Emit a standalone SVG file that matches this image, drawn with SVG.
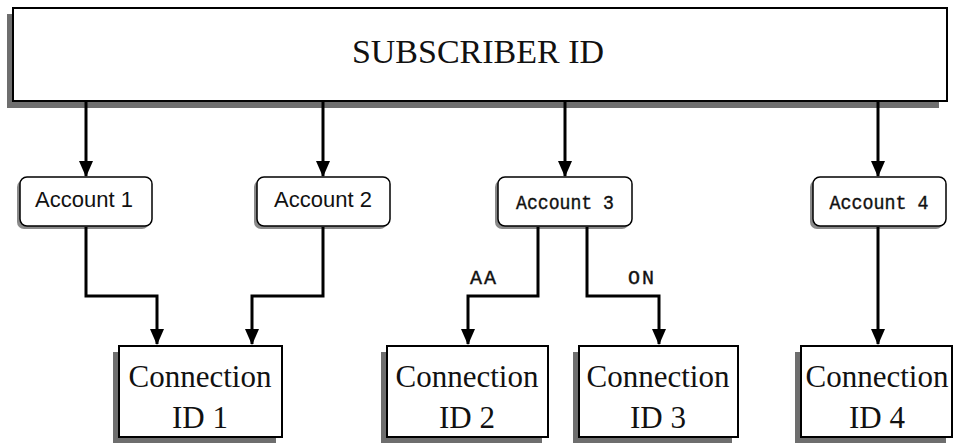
<svg xmlns="http://www.w3.org/2000/svg" width="958" height="445" viewBox="0 0 958 445">
<defs>
<marker id="ah" markerWidth="16" markerHeight="14" refX="15" refY="7" orient="auto" markerUnits="userSpaceOnUse" viewBox="0 0 16 14">
<path d="M0,0 L16,7 L0,14 Z" fill="#000"/>
</marker>
</defs>
<style>
.box{fill:#fff;stroke:#000;stroke-width:2}
.shadow{fill:#6e6e6e}
.acc{fill:#fff;stroke:#000;stroke-width:1.5}
.ashadow{fill:#8a8a8a}
.conn{fill:none;stroke:#000;stroke-width:3}
.sans{font-family:"Liberation Sans",Arial,sans-serif;font-size:22px;fill:#111;text-anchor:middle}
.mono{font-family:"Liberation Mono","Courier New",monospace;font-size:21px;fill:#111;stroke:#111;stroke-width:0.4;text-anchor:middle}
.serif{font-family:"Liberation Serif","Times New Roman",serif;fill:#111;text-anchor:middle}
.lbl{font-family:"Liberation Mono","Courier New",monospace;font-size:20px;fill:#111;stroke:#111;stroke-width:0.4;text-anchor:middle;letter-spacing:2px}
</style>
<rect width="958" height="445" fill="#fff"/>

<g id="subscriber">
<rect class="shadow" x="7" y="14" width="932" height="94"/>
<rect class="box" x="13" y="8" width="934" height="93"/>
<text class="serif" x="478" y="63" font-size="34">SUBSCRIBER ID</text>
</g>

<g id="account1">
<rect class="ashadow" x="17" y="180" width="132" height="49" rx="7"/>
<rect class="acc" x="20" y="177" width="132" height="49" rx="7"/>
<text class="sans" x="84" y="207">Account 1</text>
</g>
<g id="account2">
<rect class="ashadow" x="254" y="180" width="133" height="49" rx="7"/>
<rect class="acc" x="257" y="177" width="133" height="49" rx="7"/>
<text class="sans" x="323" y="207">Account 2</text>
</g>
<g id="account3">
<rect class="ashadow" x="495" y="180" width="134" height="49" rx="7"/>
<rect class="acc" x="498" y="177" width="134" height="49" rx="7"/>
<text class="mono" x="565" y="209" textLength="98" lengthAdjust="spacingAndGlyphs">Account 3</text>
</g>
<g id="account4">
<rect class="ashadow" x="810" y="180" width="133" height="49" rx="7"/>
<rect class="acc" x="813" y="177" width="133" height="49" rx="7"/>
<text class="mono" x="879" y="209" textLength="99" lengthAdjust="spacingAndGlyphs">Account 4</text>
</g>

<g id="connection1">
<rect class="shadow" x="113" y="352" width="163" height="91"/>
<rect class="box" x="119" y="346" width="163" height="91"/>
<text class="serif" x="200" y="387" font-size="31">Connection</text>
<text class="serif" x="200" y="428" font-size="31">ID 1</text>
</g>
<g id="connection2">
<rect class="shadow" x="381" y="352" width="161" height="91"/>
<rect class="box" x="387" y="346" width="161" height="91"/>
<text class="serif" x="467" y="387" font-size="31">Connection</text>
<text class="serif" x="467" y="428" font-size="31">ID 2</text>
</g>
<g id="connection3">
<rect class="shadow" x="573" y="352" width="159" height="91"/>
<rect class="box" x="579" y="346" width="159" height="91"/>
<text class="serif" x="658" y="387" font-size="31">Connection</text>
<text class="serif" x="658" y="428" font-size="31">ID 3</text>
</g>
<g id="connection4">
<rect class="shadow" x="795" y="352" width="151" height="91"/>
<rect class="box" x="801" y="346" width="151" height="91"/>
<text class="serif" x="877" y="387" font-size="31">Connection</text>
<text class="serif" x="877" y="428" font-size="31">ID 4</text>
</g>

<g id="connectors">
<path class="conn" d="M86,102 V176" marker-end="url(#ah)"/>
<path class="conn" d="M323,102 V176" marker-end="url(#ah)"/>
<path class="conn" d="M565,102 V176" marker-end="url(#ah)"/>
<path class="conn" d="M878,102 V176" marker-end="url(#ah)"/>
<path class="conn" d="M86,227 V296 H157 V344" marker-end="url(#ah)"/>
<path class="conn" d="M323,227 V296 H252 V344" marker-end="url(#ah)"/>
<path class="conn" d="M538,227 V296 H468 V344" marker-end="url(#ah)"/>
<path class="conn" d="M587,227 V296 H659 V344" marker-end="url(#ah)"/>
<path class="conn" d="M878,227 V344" marker-end="url(#ah)"/>
<text class="lbl" x="484" y="284">AA</text>
<text class="lbl" x="642" y="284">ON</text>
</g>
</svg>
